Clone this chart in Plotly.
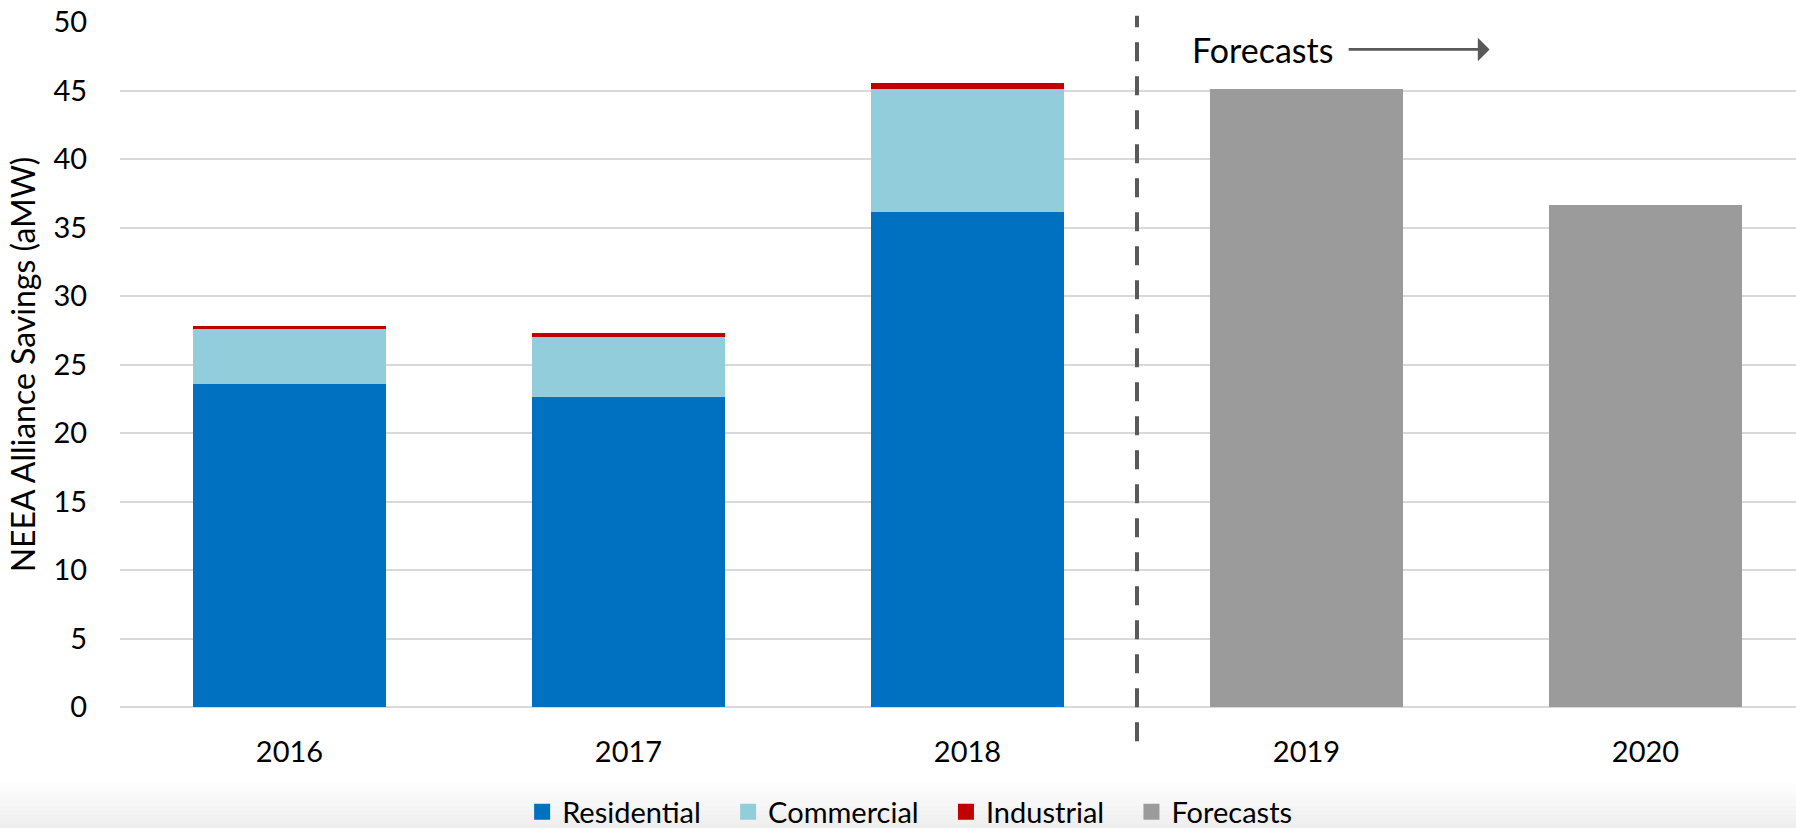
import plotly.graph_objects as go

# data (aMW)
years = ["2016", "2017", "2018", "2019", "2020"]
residential = [23.6, 22.65, 36.15, None, None]
commercial = [3.96, 4.38, 8.98, None, None]
industrial = [0.22, 0.27, 0.4, None, None]
forecasts = [None, None, None, 45.12, 36.64]

series_names = ["Residential", "Commercial", "Industrial", "Forecasts"]
series_colors = ["#0070C0", "#92CDDC", "#C00000", "#9B9B9B"]

FONT = "Lato, 'Liberation Sans', sans-serif"

fig = go.Figure()

# stacked bars (legend handled by dummy square markers below)
for name, vals, color in zip(series_names, [residential, commercial, industrial, forecasts], series_colors):
    fig.add_trace(go.Bar(
        x=years, y=vals, name=name,
        marker=dict(color=color, line=dict(width=0)),
        showlegend=False,
    ))

# legend entries with larger square swatches (nbsp padding widens the gaps)
for name, color in zip(series_names, series_colors):
    fig.add_trace(go.Scatter(
        x=[None], y=[None], mode="markers", name=name + "\u00a0\u00a0\u00a0",
        marker=dict(symbol="square", size=17, color=color),
    ))

# light grey gradient band behind the legend
n_strips = 10
for i in range(n_strips):
    g = 255 - int(round(17 * (i + 1) / n_strips))
    fig.add_shape(
        type="rect", xref="paper", yref="paper",
        x0=-0.08, x1=1.01,
        y0=-0.111 - 0.066 * i / n_strips, y1=-0.111 - 0.066 * (i + 1) / n_strips - 0.002,
        fillcolor=f"rgb({g},{g},{g})", line=dict(width=0), layer="below",
    )

# dashed divider between actuals and forecasts
fig.add_shape(
    type="line", xref="x", yref="paper",
    x0=2.5, x1=2.5, y0=-0.05, y1=1.009,
    line=dict(color="#595959", width=4, dash="19px,15px"),
)

# "Forecasts" label and arrow
fig.add_annotation(
    x=2.87, y=48, xref="x", yref="y", text="Forecasts", showarrow=False,
    font=dict(family=FONT, size=34, color="#000000"),
)
fig.add_annotation(
    x=3.54, y=48, ax=3.12, ay=48, xref="x", yref="y", axref="x", ayref="y",
    text="", showarrow=True, arrowhead=1, arrowsize=1.4, arrowwidth=2.8,
    arrowcolor="#595959",
)

fig.update_layout(
    width=1796, height=828,
    barmode="stack", bargap=0.429,
    plot_bgcolor="white", paper_bgcolor="white",
    margin=dict(l=120, r=0, t=22, b=121, autoexpand=False),
    font=dict(family=FONT, size=29, color="#000000"),
    legend=dict(
        orientation="h", x=0.478, xanchor="center", y=-0.153, yanchor="middle",
        font=dict(family=FONT, size=29, color="#000000"),
        bgcolor="rgba(0,0,0,0)", itemwidth=30, traceorder="normal",
    ),
    xaxis=dict(
        range=[-0.5, 4.444], showgrid=False, zeroline=False, showline=False,
        ticks="outside", ticklen=19, tickcolor="rgba(0,0,0,0)",
        tickfont=dict(family=FONT, size=29, color="#000000"),
        automargin=False, fixedrange=True,
    ),
    yaxis=dict(
        range=[0, 50], dtick=5, showgrid=True, gridcolor="#D9D9D9", gridwidth=2,
        zeroline=True, zerolinecolor="#D9D9D9", zerolinewidth=2, showline=False,
        ticks="outside", ticklen=26, tickcolor="rgba(0,0,0,0)",
        tickfont=dict(family=FONT, size=29, color="#000000"),
        title=dict(text="NEEA Alliance Savings (aMW)", standoff=8,
                   font=dict(family=FONT, size=32, color="#000000")),
        automargin=False, fixedrange=True,
    ),
)

# drop the default page margin so the 1796x828 figure fills the window exactly
fig.write_html("out.html", config={"displayModeBar": False},
               post_script="document.body.style.margin='0px';")
